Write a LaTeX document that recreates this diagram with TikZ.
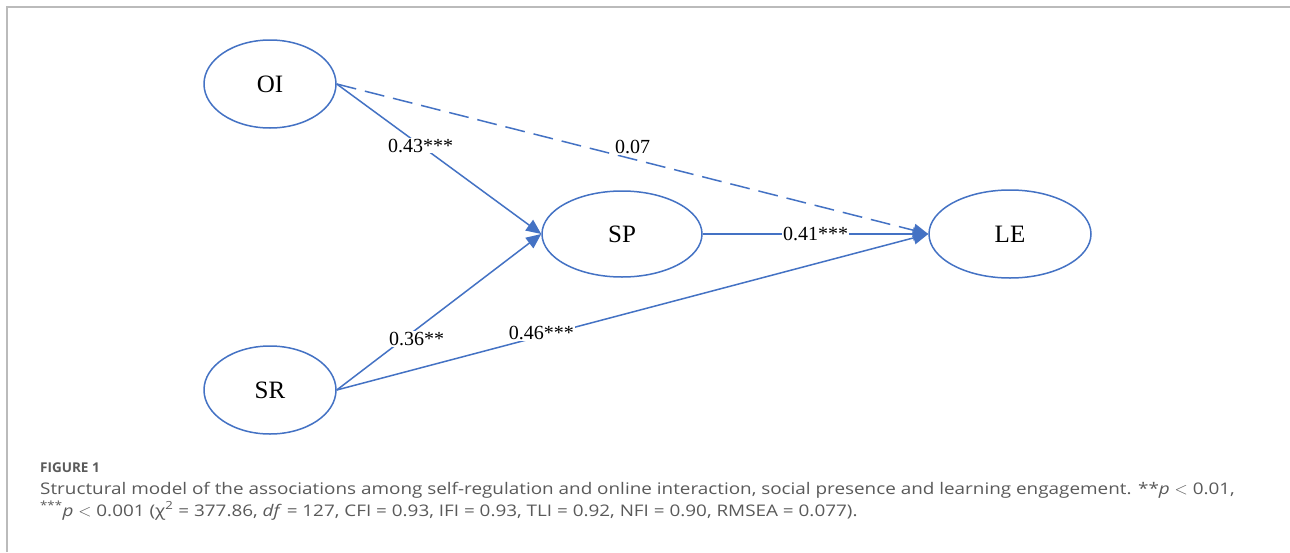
\documentclass[tikz,border=0pt]{standalone}
\usepackage{fontspec}
\setmainfont{Liberation Serif}
\newfontfamily\capfont[FakeStretch=1.18]{Open Sans}
\newfontfamily\figfont{Open Sans}
\usetikzlibrary{shapes.geometric,arrows.meta}
\definecolor{lineblue}{HTML}{4472C4}
\definecolor{framegray}{HTML}{BBBBBB}
\definecolor{capgray}{HTML}{5A5A5A}
\tikzset{
  latent/.style={draw=lineblue, line width=1.5pt, ellipse, inner sep=0pt, font=\fontsize{25}{28}\selectfont},
  path/.style={draw=lineblue, line width=1.5pt, -{Triangle[length=15pt,width=13pt]}},
  dashpath/.style={path, dash pattern=on 20pt off 9pt},
  coef/.style={fill=white, inner sep=1pt, font=\fontsize{20}{22}\selectfont, text=black},
  captext/.style={anchor=base west, text=capgray, inner sep=0pt, font=\capfont\fontsize{16}{22}\selectfont}
}
\begin{document}
\begin{tikzpicture}[x=1pt,y=-1pt]
\useasboundingbox (0,0) rectangle (1290,552);
\fill[white] (0,0) rectangle (1290,552);
\coordinate (fl) at (7,552);
\coordinate (fc) at (7,7);
\coordinate (fr) at (1290,7);
\draw[framegray, line width=1.5pt] (fl) -- (fc) -- (fr);

\node[latent, minimum width=132pt, minimum height=88pt] (OI) at (270,84) {OI};
\node[latent, minimum width=132pt, minimum height=88pt] (SR) at (270,390) {SR};
\node[latent, minimum width=160pt, minimum height=86pt] (SP) at (622,234) {SP};
\node[latent, minimum width=162pt, minimum height=88pt] (LE) at (1010,234) {LE};

\draw[dashpath] (OI.east) -- (LE.west) node[coef, pos=0.5, yshift=12pt] {0.07};
\draw[path] (OI.east) -- (SP.west) node[coef, pos=0.41] {0.43***};
\draw[path] (SP.east) -- (LE.west) node[coef, pos=0.5] {0.41***};
\draw[path] (SR.east) -- (SP.west) node[coef, pos=0.39, yshift=-10pt] {0.36**};
\draw[path] (SR.east) -- (LE.west) node[coef, pos=0.346, yshift=3pt] {0.46***};

\node[anchor=base west, text=capgray, inner sep=0pt, font=\figfont\bfseries\fontsize{13.5}{15}\selectfont] (fig) at (40,472) {FIGURE 1};
\node[captext] (cap1) at (40,494) {Structural model of the associations among self-regulation and online interaction, social presence and learning engagement. **\textit{p} $<$ 0.01,};
\node[captext] (cap2) at (40,516) {\textsuperscript{***}\textit{p} $<$ 0.001 (χ\textsuperscript{2} = 377.86, \textit{df} = 127, CFI = 0.93, IFI = 0.93, TLI = 0.92, NFI = 0.90, RMSEA = 0.077).};
\end{tikzpicture}
\end{document}
